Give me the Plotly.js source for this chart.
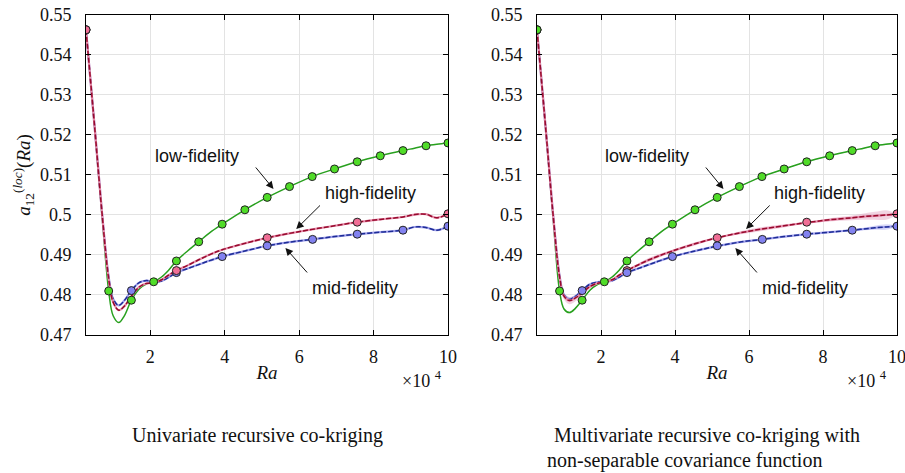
<!DOCTYPE html>
<html>
<head>
<meta charset="utf-8">
<script src="https://cdn.plot.ly/plotly-3.0.1.min.js"></script>
<style>html,body{margin:0;padding:0;background:#fff;}#chart{width:905px;height:473px;}</style>
</head>
<body>
<div id="chart"></div>
<script>
// ---------- data (Ra in units of 1e4) ----------
const curveX = [0.27,0.5,0.7,0.88,1.0,1.15,1.3,1.49,1.7,1.9,2.09,2.3,2.5,2.7,3.0,3.3,3.6,3.93,4.54,5.14,5.74,6.35,6.95,7.56,8.18,8.79,9.1,9.4,9.7,10];

// Left panel: univariate recursive co-kriging
const lowCurveL  = [0.5463,0.5220,0.4998,0.4810,0.4748,0.4731,0.4748,0.4787,0.4815,0.4828,0.4833,0.4845,0.4863,0.4885,0.4910,0.4933,0.4956,0.4977,0.5013,0.5044,0.5071,0.5096,0.5115,0.5133,0.5148,0.5161,0.5167,0.5173,0.5177,0.5180];
const highCurveL = [0.5463,0.5222,0.5005,0.4840,0.4782,0.4762,0.4772,0.4797,0.4820,0.4829,0.4830,0.4838,0.4850,0.4861,0.4874,0.4888,0.4901,0.4913,0.4929,0.4943,0.4954,0.4964,0.4973,0.4982,0.4989,0.4995,0.5001,0.5002,0.4993,0.5003];
const midCurveL  = [0.5463,0.5222,0.5006,0.4845,0.4790,0.4774,0.4786,0.4811,0.4831,0.4836,0.4833,0.4835,0.4845,0.4856,0.4866,0.4876,0.4886,0.4896,0.4910,0.4923,0.4932,0.4939,0.4946,0.4952,0.4957,0.4962,0.4970,0.4969,0.4962,0.4972];

// Right panel: multivariate recursive co-kriging
const lowCurveR  = [0.5463,0.5220,0.4998,0.4810,0.4765,0.4756,0.4766,0.4787,0.4812,0.4826,0.4833,0.4845,0.4863,0.4885,0.4910,0.4933,0.4956,0.4977,0.5013,0.5044,0.5071,0.5096,0.5115,0.5133,0.5148,0.5161,0.5167,0.5173,0.5177,0.5180];
const highCurveR = [0.5463,0.5222,0.5005,0.4845,0.4797,0.4786,0.4792,0.4805,0.4821,0.4829,0.4832,0.4838,0.4850,0.4861,0.4875,0.4888,0.4899,0.4910,0.4928,0.4943,0.4955,0.4965,0.4973,0.4981,0.4988,0.4993,0.4996,0.4998,0.5000,0.5002];
const midCurveR  = [0.5463,0.5222,0.5006,0.4848,0.4800,0.4789,0.4796,0.4811,0.4827,0.4832,0.4833,0.4836,0.4845,0.4856,0.4866,0.4876,0.4886,0.4896,0.4910,0.4922,0.4932,0.4939,0.4946,0.4952,0.4957,0.4962,0.4965,0.4968,0.4970,0.4972];
// uncertainty half-widths (right panel)
const highBandR  = [0,0.0003,0.0004,0.0006,0.0008,0.0009,0.0008,0.0007,0.0005,0.0004,0.0003,0.0003,0.0002,0,0.0003,0.0005,0.0004,0.0003,0.0004,0.0001,0.0004,0.0005,0.0004,0.0001,0.0004,0.0006,0.0008,0.0010,0.0012,0.0002];
const midBandR   = [0,0.0002,0.0003,0.0004,0.0005,0.0005,0.0003,0.0001,0.0002,0.0003,0.0003,0.0003,0.0002,0.0001,0.0002,0.0003,0.0002,0.0001,0.0003,0.0001,0.0002,0.0001,0.0002,0.0001,0.0002,0.0001,0.0003,0.0005,0.0007,0.0002];
const lowBandR   = [0,0.0002,0.0002,0.0002,0.0002,0.0002,0.0002,0.0001,0.0002,0.0002,0.0001,0.0002,0.0002,0.0001,0.0002,0.0001,0.0002,0.0001,0.0001,0.0001,0.0001,0.0001,0.0001,0.0001,0.0001,0.0001,0.0002,0.0001,0.0002,0.0001];

// samples
const lowX  = [0.27,0.88,1.49,2.09,2.70,3.30,3.93,4.54,5.14,5.74,6.35,6.95,7.56,8.18,8.79,9.41,10];
const lowY  = [0.5463,0.4810,0.4787,0.4833,0.4885,0.4933,0.4977,0.5013,0.5044,0.5071,0.5096,0.5115,0.5133,0.5148,0.5161,0.5173,0.5180];
const midX  = [0.27,1.49,2.70,3.93,5.14,6.36,7.56,8.79,10];
const midY  = [0.5463,0.4811,0.4856,0.4896,0.4923,0.4939,0.4952,0.4962,0.4972];
const highX = [0.27,2.70,5.14,7.56,10];
const highY = [0.5463,0.4861,0.4943,0.4982,0.5003];

// ticks
const xTickVals = [2,4,6,8,10];
const xTickText = ['2','4','6','8','10'];
const yTickVals = [0.47,0.48,0.49,0.50,0.51,0.52,0.53,0.54,0.55];
const yTickText = ['0.47','0.48','0.49','0.5','0.51','0.52','0.53','0.54','0.55'];

// labels
const seriesLabels = ['low-fidelity','mid-fidelity','high-fidelity'];
const captionLeft = 'Univariate recursive co-kriging';
const captionRight1 = 'Multivariate recursive co-kriging with';
const captionRight2 = 'non-separable covariance function';

// ---------- styles ----------
const C = {
  lowLine:'rgb(40,160,30)', lowMark:'rgb(80,220,40)', lowBand:'rgba(120,200,110,0.35)',
  midDark:'rgb(30,45,150)', midLight:'rgb(160,160,235)', midMark:'rgb(130,130,240)', midBand:'rgba(150,150,235,0.35)',
  highDark:'rgb(150,10,45)', highLight:'rgb(230,140,170)', highMark:'rgb(240,110,150)', highBand:'rgba(225,160,190,0.45)'
};
const SERIF = 'Liberation Serif';
const SANS = 'Liberation Sans';

function band(xa, ya, y, w, color){
  const up = y.map((v,i)=>v+w[i]);
  const lo = y.map((v,i)=>v-w[i]);
  return [
    {x:curveX, y:lo, xaxis:xa, yaxis:ya, mode:'lines', line:{width:0, shape:'spline'}, hoverinfo:'skip', showlegend:false},
    {x:curveX, y:up, xaxis:xa, yaxis:ya, mode:'lines', line:{width:0, shape:'spline'}, fill:'tonexty', fillcolor:color, hoverinfo:'skip', showlegend:false}
  ];
}
function solid(xa, ya, y, color, w, name){
  return {x:curveX, y:y, xaxis:xa, yaxis:ya, mode:'lines', name:name, line:{color:color, width:w, shape:'spline', smoothing:1}, showlegend:false};
}
function dashed(xa, ya, y, color, name){
  return {x:curveX, y:y, xaxis:xa, yaxis:ya, mode:'lines', name:name, line:{color:color, width:1.5, dash:'5px,2px', shape:'spline', smoothing:1}, showlegend:false};
}
function marks(xa, ya, x, y, color, name){
  return {x:x, y:y, xaxis:xa, yaxis:ya, mode:'markers', name:name, marker:{size:8, color:color, line:{color:'#222', width:1}}, showlegend:false};
}

const traces = [];
// left panel
traces.push(solid('x','y',lowCurveL,C.lowLine,1.5,seriesLabels[0]));
traces.push(solid('x','y',midCurveL,C.midLight,2.2,seriesLabels[1]));
traces.push(dashed('x','y',midCurveL,C.midDark,seriesLabels[1]));
traces.push(solid('x','y',highCurveL,C.highLight,2.2,seriesLabels[2]));
traces.push(dashed('x','y',highCurveL,C.highDark,seriesLabels[2]));
traces.push(marks('x','y',lowX,lowY,C.lowMark,seriesLabels[0]));
traces.push(marks('x','y',midX,midY,C.midMark,seriesLabels[1]));
traces.push(marks('x','y',highX,highY,C.highMark,seriesLabels[2]));
// right panel
traces.push(...band('x2','y2',highCurveR,highBandR,C.highBand));
traces.push(...band('x2','y2',midCurveR,midBandR,C.midBand));
traces.push(...band('x2','y2',lowCurveR,lowBandR,C.lowBand));
traces.push(solid('x2','y2',lowCurveR,C.lowLine,1.5,seriesLabels[0]));
traces.push(solid('x2','y2',midCurveR,C.midLight,2.2,seriesLabels[1]));
traces.push(dashed('x2','y2',midCurveR,C.midDark,seriesLabels[1]));
traces.push(solid('x2','y2',highCurveR,C.highLight,2.2,seriesLabels[2]));
traces.push(dashed('x2','y2',highCurveR,C.highDark,seriesLabels[2]));
traces.push(marks('x2','y2',highX,highY,C.highMark,seriesLabels[2]));
traces.push(marks('x2','y2',midX,midY,C.midMark,seriesLabels[1]));
traces.push(marks('x2','y2',lowX,lowY,C.lowMark,seriesLabels[0]));

const xAx = (dom)=>({
  domain:dom, range:[0.27,10], tickvals:xTickVals, ticktext:xTickText,
  ticks:'inside', ticklen:5, tickcolor:'#000', showline:true, linecolor:'#000', linewidth:1, mirror:'ticks',
  showgrid:true, gridcolor:'#e3e3e3', gridwidth:1, zeroline:false,
  tickfont:{family:SERIF, size:18, color:'#111'}, ticklabelstandoff:5, ticklabeloverflow:'allow',
  title:{text:'<i>Ra</i>', font:{family:SERIF, size:19, color:'#111'}, standoff:0}
});
const yAx = (anchor, withTitle)=>({
  domain:[0.2918,0.9683], range:[0.47,0.55], tickvals:yTickVals, ticktext:yTickText, anchor:anchor,
  ticks:'inside', ticklen:5, tickcolor:'#000', showline:true, linecolor:'#000', linewidth:1, mirror:'ticks',
  showgrid:true, gridcolor:'#e3e3e3', gridwidth:1, zeroline:false,
  tickfont:{family:SERIF, size:18, color:'#111'}, ticklabelstandoff:10, ticklabeloverflow:'allow',
  title: withTitle ? {text:'<i>a</i><sub>12</sub><sup>(<i>loc</i>)</sup>(<i>Ra</i>)', font:{family:SERIF, size:19, color:'#111'}, standoff:4} : {text:''}
});

const annotations = [];
function panelNotes(xr, yr){
  const txt = [
    {t:seriesLabels[0], x:3.25, y:0.51475},
    {t:seriesLabels[2], x:7.91, y:0.5055},
    {t:seriesLabels[1], x:7.50, y:0.48175}
  ];
  txt.forEach(o=>annotations.push({xref:xr, yref:yr, x:o.x, y:o.y, text:o.t, showarrow:false, xanchor:'center', yanchor:'middle', font:{family:SANS, size:18, color:'#111'}}));
  const arr = [
    {hx:5.31, hy:0.5065, tx:4.80, ty:0.51225},
    {hx:5.92, hy:0.4965, tx:6.60, ty:0.50275},
    {hx:5.63, hy:0.49175, tx:6.25, ty:0.48525}
  ];
  arr.forEach(a=>annotations.push({xref:xr, yref:yr, axref:xr, ayref:yr, x:a.hx, y:a.hy, ax:a.tx, ay:a.ty, text:'', showarrow:true, arrowhead:2, arrowsize:1.5, arrowwidth:1, arrowcolor:'#111'}));
}
panelNotes('x','y');
panelNotes('x2','y2');

annotations.push({xref:'paper', yref:'paper', x:422/905, y:1-379/473, text:'×10 <sup>4</sup>', showarrow:false, xanchor:'center', yanchor:'middle', font:{family:SERIF, size:18, color:'#111'}});
annotations.push({xref:'paper', yref:'paper', x:867/905, y:1-379/473, text:'×10 <sup>4</sup>', showarrow:false, xanchor:'center', yanchor:'middle', font:{family:SERIF, size:18, color:'#111'}});
annotations.push({xref:'paper', yref:'paper', x:257/905, y:1-435/473, text:captionLeft, showarrow:false, xanchor:'center', yanchor:'middle', font:{family:SERIF, size:20, color:'#111'}});
annotations.push({xref:'paper', yref:'paper', x:552/905, y:1-435/473, text:captionRight1, showarrow:false, xanchor:'left', yanchor:'middle', font:{family:SERIF, size:20, color:'#111'}});
annotations.push({xref:'paper', yref:'paper', x:545/905, y:1-460/473, text:captionRight2, showarrow:false, xanchor:'left', yanchor:'middle', font:{family:SERIF, size:20, color:'#111'}});

const layout = {
  width:905, height:473, margin:{l:0, r:0, t:0, b:0},
  paper_bgcolor:'#fff', plot_bgcolor:'#fff', showlegend:false,
  xaxis: xAx([86/905, 448/905]),
  yaxis: yAx('x', true),
  xaxis2: Object.assign(xAx([537/905, 897/905]), {anchor:'y2'}),
  yaxis2: yAx('x2', false),
  annotations: annotations
};
layout.xaxis.anchor = 'y';

Plotly.newPlot('chart', traces, layout, {staticPlot:true, displayModeBar:false});
</script>
</body>
</html>
